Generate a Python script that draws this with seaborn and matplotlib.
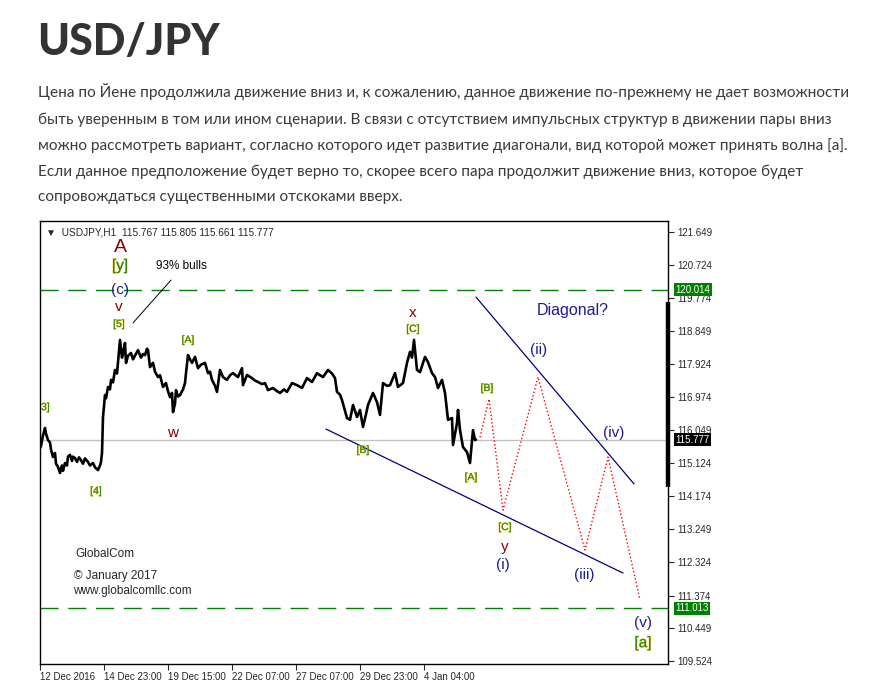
import numpy as np
import pandas as pd
import matplotlib
matplotlib.use("Agg")
import matplotlib.pyplot as plt
import matplotlib.patheffects as pe
import matplotlib.transforms as mtransforms
import seaborn as sns

# Price series (H1 closes, bar index from 12 Dec 2016)
bars = [0, 1, 3, 5, 6, 8, 10, 11, 13, 15, 16, 18, 20, 22, 23, 25, 27, 28, 30, 32,
        33, 35, 37, 39, 41, 43, 45, 48, 50, 53, 55, 58, 60, 61, 62, 63, 65, 66, 68, 70,
        71, 73, 75, 77, 78, 79, 80, 82, 83, 85, 86, 88, 91, 93, 98, 101, 103, 105, 107, 108,
        110, 113, 115, 118, 120, 123, 126, 128, 130, 132, 133, 135, 136, 138, 140, 143, 145, 146, 148, 150,
        152, 155, 158, 161, 165, 168, 170, 172, 175, 177, 180, 183, 187, 190, 193, 198, 202, 203, 207, 212,
        215, 218, 222, 225, 228, 233, 237, 240, 244, 247, 252, 257, 262, 267, 272, 277, 280, 283, 288, 292,
        295, 297, 300, 302, 305, 307, 310, 313, 317, 320, 323, 326, 328, 333, 337, 340, 343, 347, 350, 355,
        358, 363, 367, 370, 372, 374, 377, 380, 385, 388, 392, 395, 398, 402, 405, 408, 412, 413, 417, 418,
        420, 423, 427, 430, 433, 435, 436]
close = [115.54, 115.60, 115.90, 116.11, 115.95, 115.77, 115.70, 115.50, 115.29, 115.40, 115.10, 115.01, 114.84, 115.05, 114.90, 115.12, 115.05, 115.30, 115.35, 115.18,
         115.30, 115.26, 115.15, 115.28, 115.20, 115.10, 115.25, 115.15, 115.05, 115.12, 115.00, 114.92, 115.05, 115.15, 115.40, 116.42, 117.04, 116.95, 117.27, 117.20,
         117.47, 117.40, 117.75, 117.65, 117.97, 118.30, 118.60, 118.10, 118.23, 118.51, 117.95, 118.15, 118.23, 118.05, 118.31, 118.10, 118.20, 118.17, 118.35, 118.31,
         117.83, 117.95, 117.70, 117.55, 117.60, 117.27, 117.38, 117.15, 116.98, 117.10, 116.56, 116.80, 117.18, 117.00, 117.04, 117.20, 117.38, 117.66, 118.17, 118.05,
         117.95, 118.12, 117.80, 117.90, 117.95, 117.66, 117.70, 117.47, 117.30, 117.13, 117.75, 117.55, 117.47, 117.60, 117.66, 117.55, 117.80, 117.32, 117.61, 117.52,
         117.45, 117.41, 117.35, 117.38, 117.18, 117.24, 117.15, 117.10, 117.20, 117.13, 117.38, 117.32, 117.24, 117.52, 117.41, 117.66, 117.60, 117.55, 117.75, 117.65,
         117.52, 117.13, 117.05, 116.90, 116.60, 116.39, 116.34, 116.76, 116.42, 116.62, 116.14, 116.50, 116.76, 117.10, 116.84, 116.48, 117.38, 117.30, 117.32, 117.66,
         117.27, 117.38, 117.95, 118.26, 118.10, 118.60, 117.75, 117.69, 118.12, 117.97, 117.66, 117.55, 117.24, 117.47, 117.10, 116.34, 116.39, 115.63, 116.25, 116.62,
         116.05, 115.57, 115.43, 115.12, 116.05, 115.77, 115.78]

# Forecast path (red dotted)
fc_bars = [440, 449, 463, 498, 545, 568, 600]
fc_price = [115.85, 116.93, 113.79, 117.55, 112.66, 115.29, 111.25]

# Diagonal trend lines
upper_bars = [436, 594]
upper_price = [119.81, 114.53]
lower_bars = [286, 583]
lower_price = [116.08, 112.01]

# Levels
level_hi = 120.014
level_lo = 111.013
last_price = 115.777

y_ticks = [121.649, 120.724, 119.774, 118.849, 117.924, 116.974, 116.049,
           115.124, 114.174, 113.249, 112.324, 111.374, 110.449, 109.524]
x_tick_pos = [0, 64, 128, 192, 256, 320, 384]
x_tick_labels = ["12 Dec 2016", "14 Dec 23:00", "19 Dec 15:00", "22 Dec 07:00",
                 "27 Dec 07:00", "29 Dec 23:00", "4 Jan 04:00"]

title = "USD/JPY"
paragraph = [
    "Цена по Йене продолжила движение вниз и, к сожалению, данное движение по-прежнему не дает возможности",
    "быть уверенным в том или ином сценарии. В связи с отсутствием импульсных структур в движении пары вниз",
    "можно рассмотреть вариант, согласно которого идет развитие диагонали, вид которой может принять волна [a].",
    "Если данное предположение будет верно то, скорее всего пара продолжит движение вниз, которое будет",
    "сопровождаться существенными отскоками вверх.",
]

sns.set_style("white")
plt.rcParams['font.family'] = ['Liberation Sans', 'DejaVu Sans']

W, H = 880, 687
fig = plt.figure(figsize=(W / 100, H / 100), dpi=100)
fig.patch.set_facecolor("white")

# page text
fig.text(37 / W, 1 - 42 / H, title, fontsize=31, fontweight="black",
         family=["Lato", "DejaVu Sans"], color="#333333", va="center", ha="left")
line_y = [92, 120, 146, 172, 197]
for yy, line in zip(line_y, paragraph):
    fig.text(38 / W, 1 - yy / H, line, fontsize=11.1, family=["Lato", "DejaVu Sans"],
             color="#3a3a3a", va="center", ha="left")

# chart axes
ax = fig.add_axes([40 / W, 1 - 664 / H, 628 / W, 443 / H])
ax.set_xlim(0, 628)
ax.set_ylim(109.44, 121.96)

sns.lineplot(x=bars, y=close, ax=ax, color="black", linewidth=1.9, sort=False, estimator=None)
sns.lineplot(x=fc_bars, y=fc_price, ax=ax, color="red", linewidth=1.0, linestyle=":", sort=False, estimator=None)
sns.lineplot(x=upper_bars, y=upper_price, ax=ax, color="#000080", linewidth=0.9, sort=False, estimator=None)
sns.lineplot(x=lower_bars, y=lower_price, ax=ax, color="#000080", linewidth=0.9, sort=False, estimator=None)

ax.axhline(level_hi, color="#008000", linewidth=1.0, dashes=(13, 7), zorder=1)
ax.axhline(level_lo, color="#008000", linewidth=1.0, dashes=(13, 7), zorder=1)
ax.axhline(last_price, color="#c0c0c0", linewidth=1.0, zorder=0)

# pointer for "93% bulls"
ax.plot([93, 131], [119.08, 120.29], color="black", linewidth=0.7)

# right-edge thick bar
ax.plot([627.5, 627.5], [114.44, 119.67], color="black", linewidth=3.2, clip_on=False, solid_capstyle="butt")

# axes styling
for s in ax.spines.values():
    s.set_color("black")
    s.set_linewidth(1.0)
ax.yaxis.tick_right()
ax.set_yticks(y_ticks)
ax.set_yticklabels([f"{v:.3f}" for v in y_ticks])
ax.set_xticks(x_tick_pos)
ax.set_xticklabels(x_tick_labels, ha="left")
ax.tick_params(axis="y", right=True, direction="out", length=4, width=0.8, labelsize=7, pad=3)
ax.tick_params(axis="x", bottom=True, direction="out", length=4, width=0.8, labelsize=7, pad=2)
ax.set_xlabel("")
ax.set_ylabel("")

# price boxes on right axis
trans = mtransforms.blended_transform_factory(ax.transAxes, ax.transData)
for val, bg in [(level_hi, "#008000"), (level_lo, "#008000"), (last_price, "black")]:
    ax.text(1.012, val, f"{val:.3f}", transform=trans, fontsize=7, color="white",
            va="center", ha="left", clip_on=False,
            bbox=dict(boxstyle="square,pad=0.15", facecolor=bg, edgecolor="none"), zorder=5)

# header
ax.text(0.01, 0.985, "▼  USDJPY,H1  115.767 115.805 115.661 115.777", transform=ax.transAxes,
        fontsize=7.3, va="top", ha="left", family=["Liberation Sans", "DejaVu Sans"])

# wave labels
red = "#8b0000"
navy = "#1c1c8c"
grn = "#2f8a10"
fx = [pe.withStroke(linewidth=0.45, foreground="#e0b400")]

def lab(x, y, s, color, size, effects=None):
    ax.text(x, y, s, color=color, fontsize=size, ha="center", va="center",
            path_effects=effects, zorder=6)

lab(80, 121.20, "A", red, 14)
lab(80, 120.69, "[y]", grn, 11, fx)
lab(80, 120.01, "(c)", navy, 11)
lab(79, 119.53, "v", red, 11)
lab(79, 119.05, "[5]", grn, 7.5, fx)
lab(141, 120.69, "93% bulls", "black", 8.5)
lab(148, 118.60, "[A]", grn, 7.5, fx)
ax.text(1, 116.70, "3]", color=grn, fontsize=7.5, ha="left", va="center", path_effects=fx)
lab(133, 115.97, "w", red, 11)
lab(56, 114.33, "[4]", grn, 7.5, fx)
lab(373, 119.36, "x", red, 11)
lab(373, 118.91, "[C]", grn, 7.5, fx)
lab(323, 115.49, "[B]", grn, 7.5, fx)
lab(431, 114.72, "[A]", grn, 7.5, fx)
lab(447, 117.24, "[B]", grn, 7.5, fx)
lab(465, 113.31, "[C]", grn, 7.5, fx)
lab(465, 112.75, "y", red, 11)
lab(463, 112.24, "(i)", navy, 11)
lab(499, 118.31, "(ii)", navy, 11)
lab(544, 111.95, "(iii)", navy, 11)
lab(574, 115.97, "(iv)", navy, 11)
lab(603, 110.60, "(v)", navy, 11)
lab(603, 110.03, "[a]", grn, 11, fx)
lab(533, 119.42, "Diagonal?", navy, 11.5)

ax.text(35, 112.55, "GlobalCom", fontsize=8.5, ha="left", va="center")
ax.text(34, 111.93, "© January 2017", fontsize=8.5, ha="left", va="center")
ax.text(33, 111.50, "www.globalcomllc.com", fontsize=8.5, ha="left", va="center")

fig.savefig("out.png", dpi=100)
